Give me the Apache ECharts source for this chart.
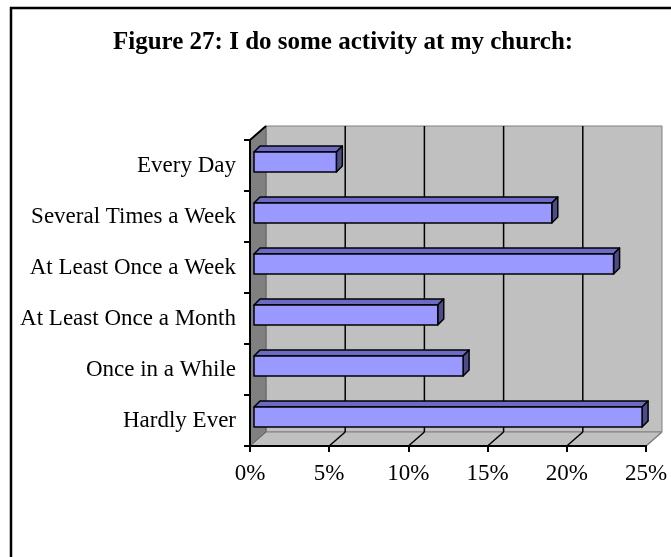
<!DOCTYPE html>
<html>
<head>
<meta charset="utf-8">
<script src="https://cdn.jsdelivr.net/npm/echarts@6/dist/echarts.min.js"></script>
<style>
  html, body { margin: 0; padding: 0; background: #fff; }
  #chart { width: 671px; height: 557px; }
</style>
</head>
<body>
<div id="chart"></div>
<script>
// data
const categories = ['Every Day', 'Several Times a Week', 'At Least Once a Week',
  'At Least Once a Month', 'Once in a While', 'Hardly Ever'];
const shares = [0.052, 0.188, 0.227, 0.116, 0.132, 0.245];
const xTicks = [0, 0.05, 0.10, 0.15, 0.20, 0.25];

// 3d look: depth of the walls and of the bars
const WALL = [16, -14];
const BAR_OFF = [4, -3.5];
const BAR_DEPTH = [6, -6];

const myChart = echarts.init(document.getElementById('chart'));

// back wall, side wall, floor and gridlines
const renderWalls = (params, api) => {
  const cs = params.coordSys;
  const x0 = cs.x, y0 = cs.y, x1 = cs.x + cs.width, y1 = cs.y + cs.height;
  const dx = WALL[0], dy = WALL[1];
  const children = [];
  // back wall
  children.push({
    type: 'rect',
    shape: { x: x0 + dx, y: y0 + dy, width: cs.width, height: cs.height },
    style: { fill: '#c0c0c0', stroke: '#808080', lineWidth: 1 }
  });
  // floor
  children.push({
    type: 'polygon',
    shape: { points: [[x0, y1], [x1, y1], [x1 + dx, y1 + dy], [x0 + dx, y1 + dy]] },
    style: { fill: '#c0c0c0', stroke: '#808080', lineWidth: 1 }
  });
  // left wall
  children.push({
    type: 'polygon',
    shape: { points: [[x0, y0], [x0 + dx, y0 + dy], [x0 + dx, y1 + dy], [x0, y1]] },
    style: { fill: '#808080', stroke: '#606060', lineWidth: 1 }
  });
  // top edge of the left wall
  children.push({
    type: 'line',
    shape: { x1: x0, y1: y0, x2: x0 + dx, y2: y0 + dy },
    style: { stroke: '#000', lineWidth: 2 }
  });
  xTicks.forEach((t, i) => {
    const px = api.coord([t, categories[0]])[0];
    if (i > 0 && i < xTicks.length - 1) {
      // gridline on back wall
      children.push({
        type: 'line',
        shape: { x1: px + dx, y1: y0 + dy, x2: px + dx, y2: y1 + dy },
        style: { stroke: '#000', lineWidth: 1.5 }
      });
    }
    if (i > 0) {
      // gridline on floor
      children.push({
        type: 'line',
        shape: { x1: px, y1: y1, x2: px + dx, y2: y1 + dy },
        style: { stroke: i === xTicks.length - 1 ? '#808080' : '#000', lineWidth: 1.5 }
      });
    }
  });
  return { type: 'group', children: children };
};

// one 3d bar
const renderBar = (params, api) => {
  const v = api.value(0);
  const cat = api.value(1);
  const p0 = api.coord([0, cat]);
  const p1 = api.coord([v, cat]);
  const h = api.size([0, 1])[1] * 0.39;
  const x = p0[0] + BAR_OFF[0];
  const y = p0[1] - h / 2 + BAR_OFF[1];
  const w = p1[0] - p0[0];
  const dx = BAR_DEPTH[0], dy = BAR_DEPTH[1];
  const edge = { stroke: '#000', lineWidth: 1.5, lineJoin: 'round' };
  return {
    type: 'group',
    children: [
      {
        type: 'polygon',
        shape: { points: [[x, y], [x + w, y], [x + w + dx, y + dy], [x + dx, y + dy]] },
        style: Object.assign({ fill: '#6b6bc6' }, edge)
      },
      {
        type: 'polygon',
        shape: { points: [[x + w, y], [x + w + dx, y + dy], [x + w + dx, y + h + dy], [x + w, y + h]] },
        style: Object.assign({ fill: '#4c4c88' }, edge)
      },
      {
        type: 'rect',
        shape: { x: x, y: y, width: w, height: h },
        style: Object.assign({ fill: '#9999ff' }, edge)
      }
    ]
  };
};

const option = {
  animation: false,
  backgroundColor: '#fff',
  title: {
    text: 'Figure 27: I do some activity at my church:',
    left: 113,
    top: 30,
    padding: 0,
    textStyle: {
      fontFamily: 'Liberation Serif',
      fontWeight: 'bold',
      fontSize: 25,
      color: '#000'
    }
  },
  graphic: [{
    type: 'rect',
    shape: { x: 11, y: 8, width: 700, height: 600 },
    style: { fill: 'none', stroke: '#000', lineWidth: 2.5 },
    z: 100
  }],
  grid: {
    left: 250,
    right: 25,
    top: 140,
    bottom: 111,
    containLabel: false
  },
  xAxis: {
    type: 'value',
    min: 0,
    max: 0.25,
    interval: 0.05,
    z: 5,
    splitLine: { show: false },
    axisLine: { show: true, lineStyle: { color: '#000', width: 2 } },
    axisTick: { show: true, length: 6, lineStyle: { color: '#000', width: 2 } },
    axisLabel: {
      margin: 16,
      fontFamily: 'Liberation Serif',
      fontSize: 23,
      color: '#000',
      formatter: v => Math.round(v * 100) + '%'
    }
  },
  yAxis: {
    type: 'category',
    data: categories,
    inverse: true,
    z: 5,
    axisLine: { show: true, lineStyle: { color: '#000', width: 2 } },
    axisTick: { show: true, length: 6, lineStyle: { color: '#000', width: 2 } },
    axisLabel: {
      margin: 14,
      fontFamily: 'Liberation Serif',
      fontSize: 23,
      color: '#000'
    }
  },
  series: [
    {
      type: 'custom',
      z: 1,
      silent: true,
      renderItem: renderWalls,
      data: [[0, categories[0]]],
      encode: { x: 0, y: 1 }
    },
    {
      type: 'custom',
      z: 3,
      renderItem: renderBar,
      data: categories.map((c, i) => [shares[i], c]),
      encode: { x: 0, y: 1 }
    }
  ]
};

myChart.setOption(option);
</script>
</body>
</html>
